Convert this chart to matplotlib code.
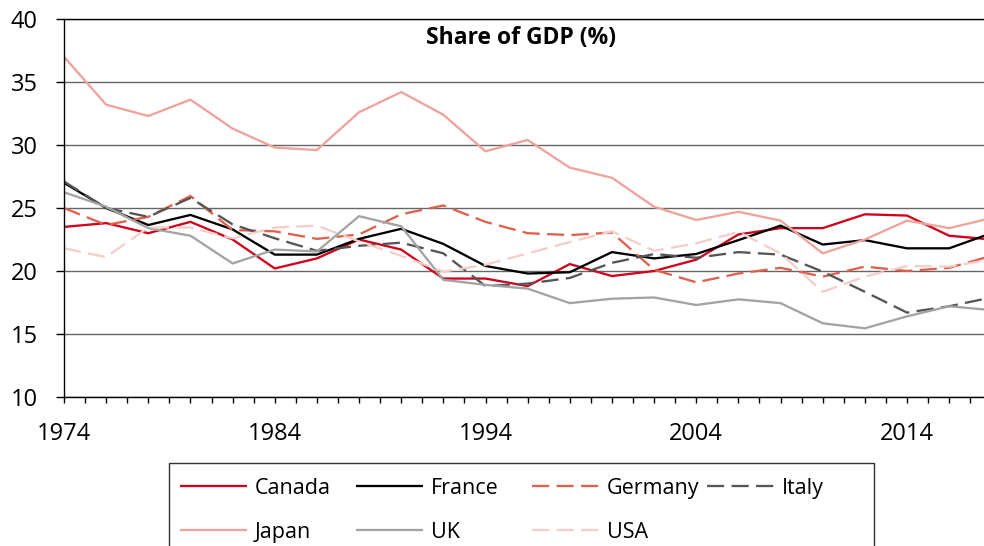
import matplotlib
matplotlib.use("Agg")
import matplotlib.pyplot as plt
from matplotlib.lines import Line2D
from matplotlib.patches import Rectangle
from matplotlib.ticker import MultipleLocator

plt.rcParams['font.family'] = ['Open Sans', 'DejaVu Sans']

years = list(range(1974, 2019, 2))

canada = [23.5, 23.8, 23.0, 23.9, 22.5, 20.2, 21.0, 22.5, 21.7, 19.4, 19.4, 18.8,
          20.55, 19.6, 20.0, 20.9, 22.9, 23.4, 23.4, 24.5, 24.4, 22.8, 22.5]
france = [27.0, 25.0, 23.65, 24.45, 23.3, 21.3, 21.3, 22.55, 23.35, 22.15, 20.4, 19.8,
          19.9, 21.5, 21.0, 21.35, 22.45, 23.6, 22.1, 22.45, 21.8, 21.8, 23.0]
germany = [25.0, 23.65, 24.3, 25.95, 23.25, 23.15, 22.55, 22.9, 24.5, 25.2, 23.9, 23.0,
           22.85, 23.05, 20.1, 19.1, 19.8, 20.25, 19.55, 20.35, 20.0, 20.25, 21.2]
italy = [27.1, 25.0, 24.3, 25.8, 23.7, 22.6, 21.6, 22.0, 22.25, 21.4, 18.8, 19.0,
         19.45, 20.65, 21.35, 21.05, 21.5, 21.3, 19.95, 18.35, 16.7, 17.2, 17.9]
japan = [37.0, 33.2, 32.3, 33.6, 31.3, 29.8, 29.6, 32.6, 34.2, 32.4, 29.5, 30.4,
         28.2, 27.4, 25.1, 24.05, 24.7, 24.0, 21.4, 22.5, 24.0, 23.4, 24.2]
uk = [26.25, 25.1, 23.4, 22.8, 20.6, 21.7, 21.55, 24.35, 23.55, 19.3, 18.9, 18.6,
      17.45, 17.8, 17.9, 17.3, 17.75, 17.45, 15.85, 15.45, 16.4, 17.2, 16.9]
usa = [21.8, 21.1, 23.45, 23.45, 22.6, 23.45, 23.6, 22.35, 21.2, 19.95, 20.5, 21.4,
       22.3, 23.15, 21.6, 22.2, 23.1, 21.4, 18.35, 19.55, 20.4, 20.35, 20.9]

names = ["Canada", "France", "Germany", "Italy", "Japan", "UK", "USA"]
series = [canada, france, germany, italy, japan, uk, usa]
colors = ["#D0021B", "#000000", "#E0604E", "#555555", "#EDA39B", "#A3A3A3", "#F5CDC9"]
dashed = [False, False, True, True, False, False, True]

title = "Share of GDP (%)"
yticks = [10, 15, 20, 25, 30, 35, 40]
xlabel_years = [1974, 1984, 1994, 2004, 2014]

W, H = 984, 546
fig = plt.figure(figsize=(W / 100, H / 100), dpi=100)
ax = fig.add_axes([64 / W, (H - 397) / H, 1 - 64 / W, (397 - 19) / H])

lw = 1.65
dash = (7.5, 3.2)
handles = []
for name, vals, c, d in zip(names, series, colors, dashed):
    kw = dict(color=c, lw=lw, solid_joinstyle='miter', solid_capstyle='butt')
    if d:
        kw.update(linestyle=(0, dash), dash_capstyle='butt')
    ax.plot(years, vals, **kw)
    h = Line2D([], [], **kw)
    handles.append(h)

ax.set_xlim(1974, 1974 + 920 / 21.075)
ax.set_ylim(10, 40)
ax.set_yticks(yticks)
ax.xaxis.set_major_locator(MultipleLocator(10))
ax.xaxis.set_minor_locator(MultipleLocator(1))
ax.set_xticks(xlabel_years)
ax.set_xticklabels([str(y) for y in xlabel_years])

ax.yaxis.grid(True, color="#666666", lw=1.0)
ax.set_axisbelow(True)
ax.spines["right"].set_visible(False)
ax.spines["top"].set_color("black")
ax.spines["top"].set_linewidth(1.0)
ax.spines["left"].set_linewidth(1.0)
ax.spines["bottom"].set_linewidth(1.0)

ax.tick_params(axis='y', which='both', direction='out', length=5.8, width=1.0,
               pad=13, labelsize=17, colors='black')
ax.tick_params(axis='x', which='both', direction='out', length=4.3, width=1.0,
               pad=13.5, labelsize=17, colors='black')

fig.text(521 / W, (H - 44.3) / H, title, ha='center', va='baseline',
         fontsize=16.5, fontweight='bold')

# Legend: uniform column pitch, drawn as separate column groups
fs = 15.5
fs_px = fs * 100 / 72
cols = [[0, 4], [1, 5], [2, 6], [3]]
col_x = [179.5, 356, 532, 707]
row_top = 478
for idx, x0 in zip(cols, col_x):
    fig.legend([handles[i] for i in idx], [names[i] for i in idx],
               loc='upper left', bbox_to_anchor=(x0 / W, (H - row_top) / H),
               bbox_transform=fig.transFigure, borderpad=0, borderaxespad=0,
               frameon=False, fontsize=fs, handlelength=67 / fs_px,
               handletextpad=8 / fs_px, labelspacing=1.06)

fig.patches.append(Rectangle((169 / W, -0.05), (874 - 169) / W, (H - 463) / H + 0.05,
                             transform=fig.transFigure, fill=False,
                             edgecolor="#303030", lw=1.0))

fig.savefig("out.png", dpi=100)
